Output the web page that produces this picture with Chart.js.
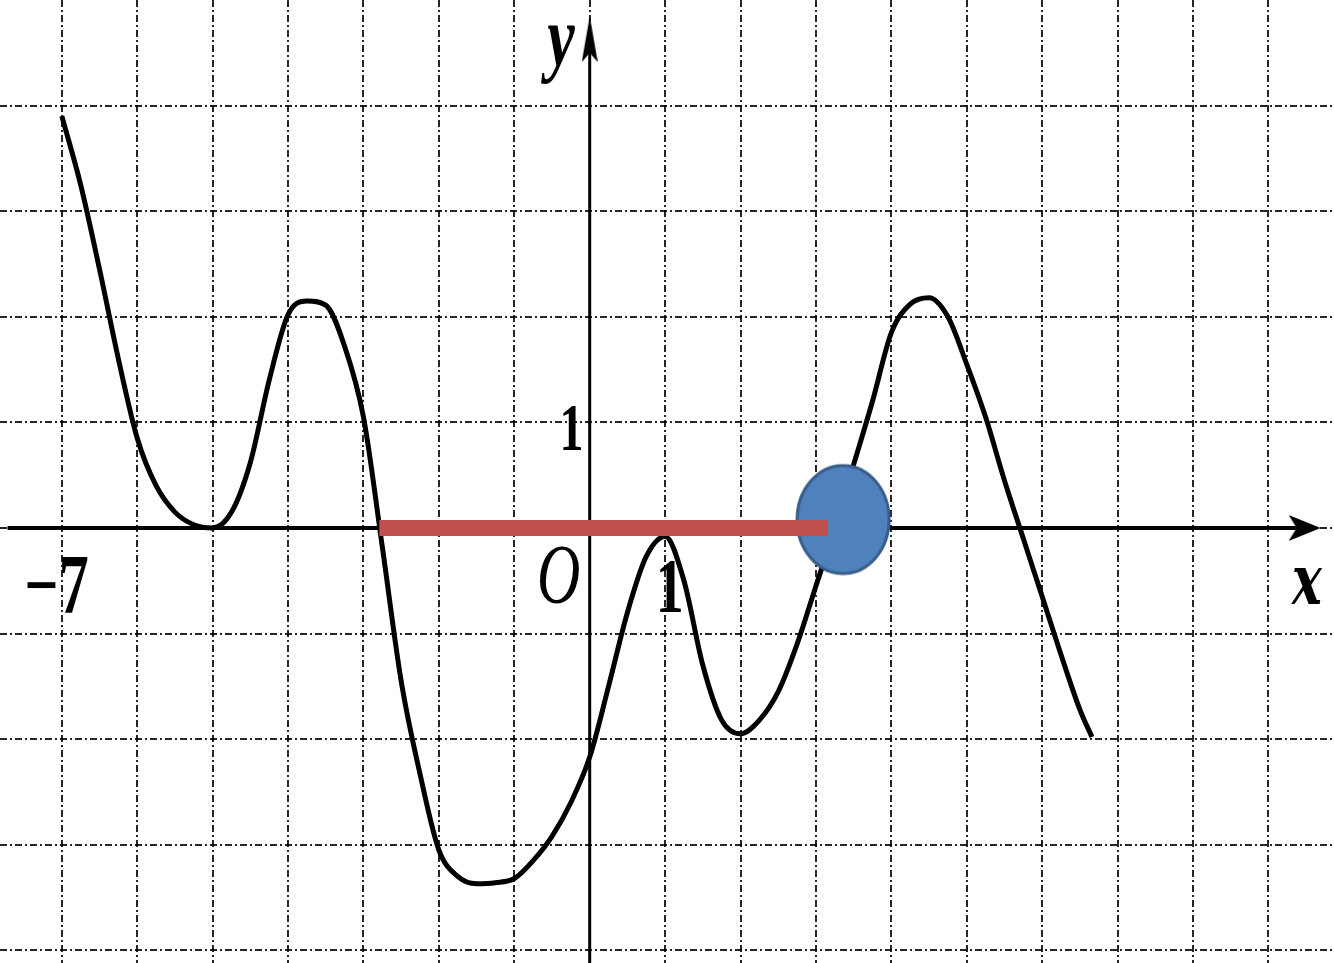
<!DOCTYPE html>
<html>
<head>
<meta charset="utf-8">
<script src="https://cdn.jsdelivr.net/npm/chart.js@4.4.0/dist/chart.umd.min.js"></script>
<style>
  html, body { margin: 0; padding: 0; background: #fff; }
  #wrap { width: 1334px; height: 963px; position: relative; }
</style>
</head>
<body>
<div id="wrap"><canvas id="graph"></canvas></div>
<script>
  // Curve of the function, every quarter unit
  const curveX = [-7, -6.75, -6.5, -6.25, -6, -5.75, -5.5, -5.25, -5, -4.75, -4.5, -4.25, -4, -3.75, -3.5, -3.25, -3, -2.75, -2.5, -2.25, -2, -1.75, -1.5, -1.25, -1, -0.75, -0.5, -0.25, 0, 0.25, 0.5, 0.75, 1, 1.25, 1.5, 1.75, 2, 2.25, 2.5, 2.75, 3, 3.25, 3.5, 3.75, 4, 4.25, 4.5, 4.75, 5, 5.25, 5.5, 5.75, 6, 6.25, 6.5, 6.66];
  const curveY = [3.9, 3.25, 2.45, 1.6, 0.85, 0.4, 0.15, 0.03, 0, 0.15, 0.62, 1.4, 2.02, 2.15, 2.11, 1.72, 1.05, -0.18, -1.45, -2.33, -3.05, -3.3, -3.37, -3.36, -3.32, -3.15, -2.92, -2.6, -2.17, -1.5, -0.8, -0.27, -0.08, -0.5, -1.3, -1.82, -1.95, -1.82, -1.55, -1.1, -0.55, 0, 0.6, 1.2, 1.85, 2.12, 2.18, 2.0, 1.55, 1.05, 0.45, -0.1, -0.65, -1.2, -1.72, -1.98];

  // red segment on the x axis and the blue marker
  const segmentX = [-2.79, 3.16];
  const segmentY = [0, 0];
  const markerX = [3.36];
  const markerY = [0.08];

  // integer grid
  const gridX = [-7, -6, -5, -4, -3, -2, -1, 0, 1, 2, 3, 4, 5, 6, 7, 8, 9];
  const gridY = [-4, -3, -2, -1, 0, 1, 2, 3, 4];

  // axis lines
  const xAxisX = [-7.72, 9.5];
  const yAxisY = [-4.2, 4.6];

  const toPoints = (xs, ys) => xs.map((v, i) => ({ x: v, y: ys[i] }));

  // Marker image (ellipse, the picture is stretched)
  function makeEllipse() {
    const c = document.createElement('canvas');
    c.width = 98; c.height = 114;
    const g = c.getContext('2d');
    g.beginPath();
    g.ellipse(49, 57, 46, 54, 0, 0, Math.PI * 2);
    g.fillStyle = '#4F81BD';
    g.fill();
    g.lineWidth = 3;
    g.strokeStyle = '#385D8A';
    g.stroke();
    return c;
  }
  function makeArrow(w, h, dir) {
    const c = document.createElement('canvas');
    c.width = w; c.height = h;
    const g = c.getContext('2d');
    g.beginPath();
    if (dir === 'right') {
      g.moveTo(0, 0); g.lineTo(w, h / 2); g.lineTo(0, h); g.lineTo(w * 0.25, h / 2);
    } else {
      g.moveTo(0, h); g.lineTo(w / 2, 0); g.lineTo(w, h); g.lineTo(w / 2, h * 0.8);
    }
    g.closePath();
    g.fillStyle = '#000';
    g.fill();
    return c;
  }

  // Labels of the picture
  const labels = [
    { text: '\u22127', x: -7.07, y: -0.6, font: 'bold 60px "Liberation Serif"' },
    { text: 'O', x: -0.41, y: -0.5, font: 'italic 60px "Liberation Serif"' },
    { text: '1', x: 1.06, y: -0.6, font: 'bold 56px "Liberation Serif"' },
    { text: '1', x: -0.24, y: 0.9, font: 'bold 48px "Liberation Serif"' },
    { text: 'y', x: -0.38, y: 4.6, font: 'bold italic 62px "Liberation Serif"' },
    { text: 'x', x: 9.51, y: -0.55, font: 'bold italic 50px "DejaVu Serif"' },
  ];

  const textLabels = {
    id: 'textLabels',
    afterDatasetsDraw(chart) {
      const { ctx, scales: { x, y } } = chart;
      labels.forEach(l => {
        ctx.save();
        ctx.translate(x.getPixelForValue(l.x), y.getPixelForValue(l.y));
        ctx.scale(1, 1.4);
        ctx.font = l.font;
        ctx.fillStyle = '#000';
        ctx.textAlign = 'center';
        ctx.textBaseline = 'middle';
        ctx.fillText(l.text, 0, 0);
        ctx.restore();
      });
    }
  };

  const gridStyle = {
    color: 'rgba(0,0,0,0.85)',
    lineWidth: 2,
    drawTicks: false,
  };

  const config = {
    type: 'scatter',
    data: {
      datasets: [
        {
          // red segment (top-most)
          data: toPoints(segmentX, segmentY),
          showLine: true,
          borderColor: '#C0504D',
          borderWidth: 16,
          borderCapStyle: 'butt',
          pointRadius: 0,
        },
        {
          data: toPoints(markerX, markerY),
          pointStyle: makeEllipse(),
          pointRadius: 50,
        },
        {
          data: toPoints(curveX, curveY),
          showLine: true,
          borderColor: '#000',
          borderWidth: 5,
          cubicInterpolationMode: 'monotone',
          pointRadius: 0,
        },
        {
          data: toPoints(xAxisX, [0, 0]),
          showLine: true,
          borderColor: '#000',
          borderWidth: 4,
          pointRadius: 0,
        },
        {
          data: toPoints([0, 0], yAxisY),
          showLine: true,
          borderColor: '#000',
          borderWidth: 3,
          pointRadius: 0,
        },
        {
          data: [{ x: 9.48, y: 0 }],
          pointStyle: makeArrow(32, 26, 'right'),
          pointRadius: 16,
        },
        {
          data: [{ x: 0, y: 4.63 }],
          pointStyle: makeArrow(16, 46, 'up'),
          pointRadius: 16,
        },
      ]
    },
    options: {
      responsive: true,
      maintainAspectRatio: false,
      animation: false,
      layout: { padding: 0, autoPadding: false },
      scales: {
        x: {
          type: 'linear',
          min: -7.82,
          max: 9.87,
          afterBuildTicks: (scale) => { scale.ticks = gridX.map(v => ({ value: v })); },
          ticks: { display: false },
          grid: gridStyle,
          border: { display: false, dash: [7, 3, 2, 3] },
        },
        y: {
          type: 'linear',
          min: -4.12,
          max: 5.0,
          afterBuildTicks: (scale) => { scale.ticks = gridY.map(v => ({ value: v })); },
          ticks: { display: false },
          grid: gridStyle,
          border: { display: false, dash: [7, 3, 2, 3] },
        },
      },
      plugins: {
        legend: { display: false },
        tooltip: { enabled: false },
      },
    },
    plugins: [textLabels]
  };

  const graph = new Chart(document.getElementById('graph'), config);
</script>
</body>
</html>
